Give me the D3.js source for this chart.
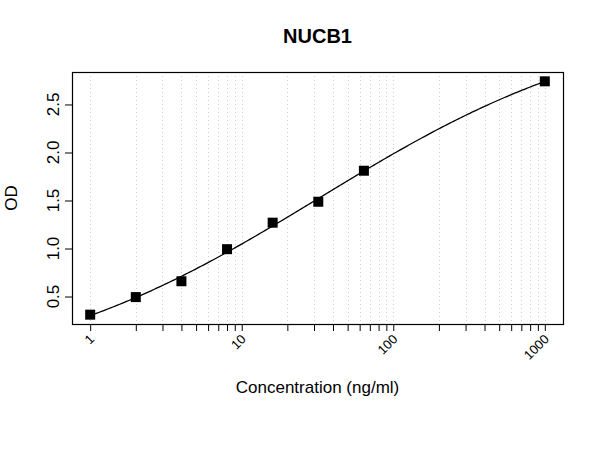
<!DOCTYPE html>
<html>
<head>
<meta charset="utf-8">
<script src="https://cdn.jsdelivr.net/npm/d3@7"></script>
<style>
  html, body { margin: 0; padding: 0; background: #fff; }
  svg { display: block; }
  text { font-family: "Liberation Sans", Arial, sans-serif; fill: #000; }
</style>
</head>
<body>
<svg id="chart" width="600" height="450"></svg>
<script>
// ---- data ----
const title = "NUCB1";
const xLabel = "Concentration (ng/ml)";
const yLabel = "OD";
const concentrations = [1, 2, 4, 8, 16, 32, 64, 1000];
const odValues = [0.311, 0.494, 0.659, 0.993, 1.269, 1.487, 1.810, 2.741];
const xTickValues = [1, 10, 100, 1000];
const xTickLabels = ["1", "10", "100", "1000"];
const yTickValues = [0.5, 1.0, 1.5, 2.0, 2.5];
const yTickLabels = ["0.5", "1.0", "1.5", "2.0", "2.5"];

// ---- layout ----
const plotLeft = 72, plotRight = 563, plotTop = 72, plotBottom = 324;

const svg = d3.select("#chart");

// R-style 4% axis extension
const lx0 = Math.log10(d3.min(concentrations)), lx1 = Math.log10(d3.max(concentrations));
const lxe = (lx1 - lx0) * 0.04;
const x = d3.scaleLog()
  .domain([Math.pow(10, lx0 - lxe), Math.pow(10, lx1 + lxe)])
  .range([plotLeft, plotRight]);

const y0 = d3.min(odValues), y1 = d3.max(odValues);
const ye = (y1 - y0) * 0.04;
const y = d3.scaleLinear()
  .domain([y0 - ye, y1 + ye])
  .range([plotBottom, plotTop]);

// ---- four-parameter logistic fit of the data (Nelder-Mead least squares) ----
function fourPL(p, c) { // p = [bottom, top, logEC50, slope]
  return p[1] + (p[0] - p[1]) / (1 + Math.pow(c / Math.pow(10, p[2]), p[3]));
}
function sse(p) {
  return d3.sum(concentrations, (c, i) => (fourPL(p, c) - odValues[i]) ** 2);
}
function nelderMead(f, start, steps, iters) {
  const n = start.length;
  let simplex = [start.slice()];
  for (let i = 0; i < n; i++) { const v = start.slice(); v[i] += steps[i]; simplex.push(v); }
  let vals = simplex.map(f);
  for (let k = 0; k < iters; k++) {
    const order = d3.range(n + 1).sort((a, b) => vals[a] - vals[b]);
    simplex = order.map(i => simplex[i]); vals = order.map(i => vals[i]);
    const cen = d3.range(n).map(j => d3.mean(simplex.slice(0, n), v => v[j]));
    const worst = simplex[n];
    const refl = cen.map((c, j) => c + (c - worst[j]));
    const fr = f(refl);
    if (fr < vals[0]) {
      const exp = cen.map((c, j) => c + 2 * (c - worst[j]));
      const fe = f(exp);
      if (fe < fr) { simplex[n] = exp; vals[n] = fe; } else { simplex[n] = refl; vals[n] = fr; }
    } else if (fr < vals[n - 1]) {
      simplex[n] = refl; vals[n] = fr;
    } else {
      const con = cen.map((c, j) => c + 0.5 * (worst[j] - c));
      const fc = f(con);
      if (fc < vals[n]) { simplex[n] = con; vals[n] = fc; }
      else {
        for (let i = 1; i <= n; i++) {
          simplex[i] = simplex[i].map((v, j) => simplex[0][j] + 0.5 * (v - simplex[0][j]));
          vals[i] = f(simplex[i]);
        }
      }
    }
  }
  const best = d3.minIndex(vals);
  return simplex[best];
}
const fit = nelderMead(sse, [0.1, 3.5, 2, 0.7], [0.1, 0.5, 0.5, 0.2], 4000);

// minor tick positions (1..9 per decade)
const minorTicks = x.ticks().filter(v => v >= 1 && v <= 1000);

// grid lines
svg.append("g")
  .selectAll("line")
  .data(minorTicks)
  .join("line")
  .attr("x1", d => Math.round(x(d)) + 0.5)
  .attr("x2", d => Math.round(x(d)) + 0.5)
  .attr("y1", plotTop)
  .attr("y2", plotBottom)
  .attr("stroke", "#cfcfcf")
  .attr("stroke-width", 1)
  .attr("stroke-dasharray", "1,3");

// x axis ticks
const xAxis = d3.axisBottom(x)
  .tickValues(minorTicks)
  .tickSize(7)
  .tickSizeOuter(0)
  .tickFormat("");
const gx = svg.append("g")
  .attr("transform", `translate(0,${plotBottom})`)
  .call(xAxis);
gx.select(".domain").remove();
gx.selectAll("line").attr("stroke", "#000");

// x tick labels rotated
svg.append("g")
  .selectAll("text")
  .data(xTickValues)
  .join("text")
  .attr("transform", d => `translate(${x(d) + 5},340) rotate(-45)`)
  .attr("text-anchor", "end")
  .attr("font-size", 13)
  .text((d, i) => xTickLabels[i]);

// y axis
const yAxis = d3.axisLeft(y)
  .tickValues(yTickValues)
  .tickSize(7)
  .tickSizeOuter(0)
  .tickFormat("");
const gy = svg.append("g")
  .attr("transform", `translate(${plotLeft},0)`)
  .call(yAxis);
gy.select(".domain").remove();
gy.selectAll("line").attr("stroke", "#000");

svg.append("g")
  .selectAll("text")
  .data(yTickValues)
  .join("text")
  .attr("transform", d => `translate(59,${y(d)}) rotate(-90)`)
  .attr("text-anchor", "middle")
  .attr("font-size", 17)
  .text((d, i) => yTickLabels[i]);

// plot box
svg.append("rect")
  .attr("x", plotLeft + 0.5)
  .attr("y", plotTop + 0.5)
  .attr("width", plotRight - plotLeft)
  .attr("height", plotBottom - plotTop)
  .attr("fill", "none")
  .attr("stroke", "#000")
  .attr("stroke-width", 1.2);

// fitted curve, sampled along the log axis between first and last concentration
const curveX = d3.range(0, 201).map(i => Math.pow(10, lx0 + (lx1 - lx0) * i / 200));
const line = d3.line()
  .x(c => x(c))
  .y(c => y(fourPL(fit, c)));
svg.append("path")
  .attr("d", line(curveX))
  .attr("fill", "none")
  .attr("stroke", "#000")
  .attr("stroke-width", 1.3);

// points
const pts = concentrations.map((c, i) => [c, odValues[i]]);
const sq = 10;
svg.append("g")
  .selectAll("rect")
  .data(pts)
  .join("rect")
  .attr("x", d => x(d[0]) - sq / 2)
  .attr("y", d => y(d[1]) - sq / 2)
  .attr("width", sq)
  .attr("height", sq)
  .attr("fill", "#000");

// titles
svg.append("text")
  .attr("x", (plotLeft + plotRight) / 2)
  .attr("y", 43)
  .attr("text-anchor", "middle")
  .attr("font-size", 20)
  .attr("font-weight", "bold")
  .text(title);

svg.append("text")
  .attr("x", (plotLeft + plotRight) / 2)
  .attr("y", 393)
  .attr("text-anchor", "middle")
  .attr("font-size", 17)
  .text(xLabel);

svg.append("text")
  .attr("transform", `translate(17,${(plotTop + plotBottom) / 2}) rotate(-90)`)
  .attr("text-anchor", "middle")
  .attr("font-size", 17)
  .text(yLabel);
</script>
</body>
</html>
